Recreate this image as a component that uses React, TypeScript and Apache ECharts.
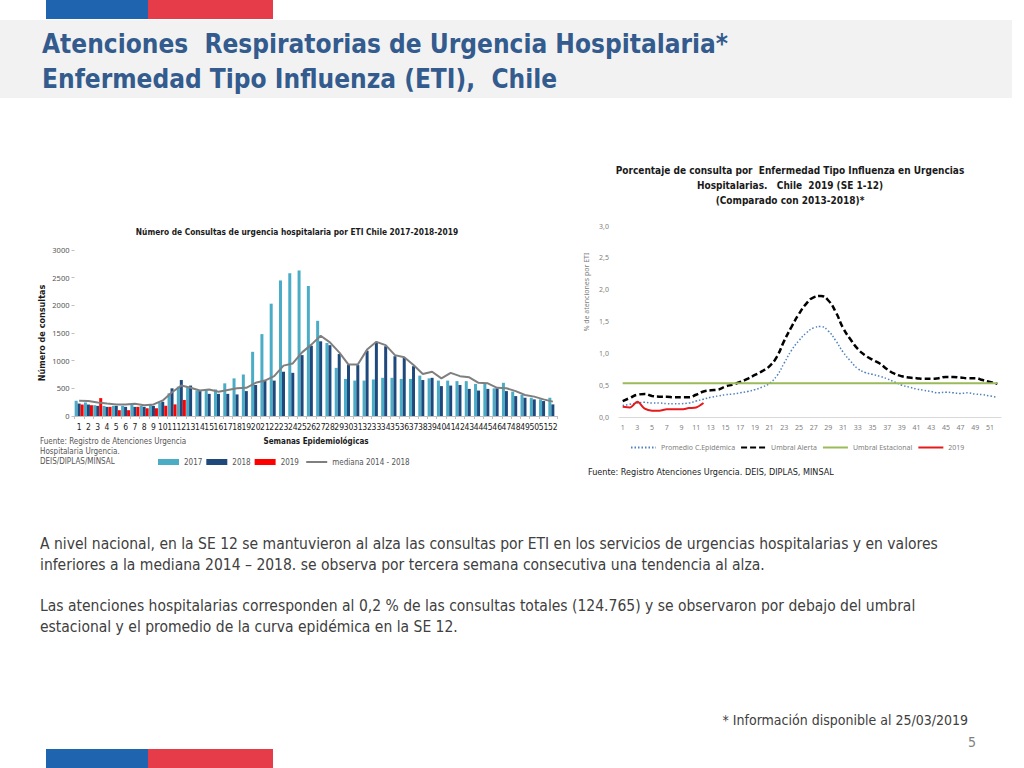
import React, { useEffect, useRef } from "react";
import * as echarts from "echarts";

const weeks = ["1","2","3","4","5","6","7","8","9","10","11","12","13","14","15","16","17","18","19","20","21","22","23","24","25","26","27","28","29","30","31","32","33","34","35","36","37","38","39","40","41","42","43","44","45","46","47","48","49","50","51","52"];

const y2017 = [275,245,195,183,183,183,200,183,200,240,410,530,520,460,480,480,590,680,750,1160,1480,2030,2450,2580,2630,2350,1720,1320,870,670,640,640,660,690,690,670,670,730,680,640,640,630,630,580,580,500,600,440,380,330,300,330];
const y2018 = [225,207,183,165,183,165,165,165,183,255,500,650,550,450,400,400,400,390,450,560,640,640,800,780,1100,1270,1350,1280,1120,930,920,1180,1340,1260,1080,1050,900,650,690,540,550,560,490,460,490,500,450,360,330,300,270,210];
const y2019 = [207,195,323,165,105,105,165,140,140,185,210,290];
const median = [275,270,245,225,210,210,220,195,210,280,430,550,510,460,480,440,470,500,510,600,640,720,910,950,1150,1290,1450,1330,1150,930,930,1200,1340,1280,1100,1060,920,760,800,680,780,720,700,600,590,510,500,450,380,350,300,260];

const promedio = [0.18,0.20,0.22,0.23,0.22,0.22,0.21,0.21,0.21,0.22,0.25,0.28,0.31,0.33,0.35,0.36,0.38,0.40,0.43,0.47,0.53,0.65,0.85,1.05,1.20,1.32,1.40,1.42,1.35,1.20,1.02,0.88,0.76,0.70,0.67,0.64,0.60,0.55,0.50,0.47,0.44,0.42,0.40,0.38,0.39,0.38,0.37,0.38,0.36,0.35,0.33,0.31];
const alerta = [0.25,0.30,0.35,0.36,0.33,0.32,0.32,0.31,0.31,0.31,0.35,0.40,0.42,0.43,0.48,0.51,0.55,0.60,0.66,0.72,0.80,0.95,1.20,1.42,1.62,1.78,1.88,1.90,1.83,1.65,1.40,1.22,1.07,0.97,0.90,0.84,0.75,0.68,0.64,0.62,0.61,0.60,0.60,0.61,0.63,0.63,0.62,0.61,0.61,0.58,0.55,0.52];
const estacional = [0.53,0.53,0.53,0.53,0.53,0.53,0.53,0.53,0.53,0.53,0.53,0.53,0.53,0.53,0.53,0.53,0.53,0.53,0.53,0.53,0.53,0.53,0.53,0.53,0.53,0.53,0.53,0.53,0.53,0.53,0.53,0.53,0.53,0.53,0.53,0.53,0.53,0.53,0.53,0.53,0.53,0.53,0.53,0.53,0.53,0.53,0.53,0.53,0.53,0.53,0.53,0.53];
const r2019 = [0.16,0.15,0.24,0.13,0.10,0.10,0.12,0.12,0.12,0.14,0.15,0.22];

const leftYTicks = [0, 500, 1000, 1500, 2000, 2500, 3000];
const rightYTicks = [0, 0.5, 1, 1.5, 2, 2.5, 3];

const NARROW = "'DejaVu Sans Condensed', 'Noto Sans', sans-serif";
const SANS = "'Noto Sans', 'Open Sans', sans-serif";

export default function App() {
  const ref = useRef<HTMLDivElement>(null);
  useEffect(() => {
    if (!ref.current) return;
    const chart = echarts.init(ref.current, null, { renderer: "svg" });
    const hideSym = { opacity: 0 };
    const option: any = {
      animation: false,
      backgroundColor: "#ffffff",
      textStyle: { fontFamily: SANS },
      graphic: [
        { type: "rect", shape: { x: 46, y: 0, width: 102, height: 19 }, style: { fill: "#1F64AF" } },
        { type: "rect", shape: { x: 148, y: 0, width: 125, height: 19 }, style: { fill: "#E63B48" } },
        { type: "rect", shape: { x: 0, y: 20, width: 1012, height: 78 }, style: { fill: "#F2F2F2" } },
        { type: "text", x: 42, y: 44, style: { text: "Atenciones  Respiratorias de Urgencia Hospitalaria*", fill: "#335B8E", fontFamily: NARROW, fontWeight: "bold", fontSize: 26, verticalAlign: "middle" } },
        { type: "text", x: 42, y: 79, style: { text: "Enfermedad Tipo Influenza (ETI),  Chile", fill: "#335B8E", fontFamily: NARROW, fontWeight: "bold", fontSize: 26, verticalAlign: "middle" } },
        { type: "text", x: 297, y: 232, style: { text: "Número de Consultas de urgencia hospitalaria por ETI Chile 2017-2018-2019", fill: "#1a1a1a", fontFamily: NARROW, fontWeight: "bold", fontSize: 8.3, align: "center", verticalAlign: "middle" } },
        { type: "text", x: 42, y: 333, rotation: Math.PI / 2, style: { text: "Número de consultas", fill: "#1a1a1a", fontFamily: NARROW, fontWeight: "bold", fontSize: 9, align: "center", verticalAlign: "middle" } },
        { type: "text", x: 316, y: 441, style: { text: "Semanas Epidemiológicas", fill: "#1a1a1a", fontFamily: NARROW, fontWeight: "bold", fontSize: 8, align: "center", verticalAlign: "middle" } },
        { type: "text", x: 40, y: 436, style: { text: "Fuente: Registro de Atenciones Urgencia\nHospitalaria Urgencia.\nDEIS/DIPLAS/MINSAL", fill: "#555555", fontFamily: NARROW, fontSize: 8, lineHeight: 10, verticalAlign: "top" } },
        { type: "text", x: 790, y: 185, style: { text: "Porcentaje de consulta por  Enfermedad Tipo Influenza en Urgencias\nHospitalarias.   Chile  2019 (SE 1-12)\n(Comparado con 2013-2018)*", fill: "#1a1a1a", fontFamily: NARROW, fontWeight: "bold", fontSize: 10, lineHeight: 15, align: "center", verticalAlign: "middle" } },
        { type: "text", x: 586, y: 292, rotation: Math.PI / 2, style: { text: "% de atenciones por ETI", fill: "#808080", fontFamily: SANS, fontSize: 7, align: "center", verticalAlign: "middle" } },
        { type: "text", x: 588, y: 472, style: { text: "Fuente: Registro Atenciones Urgencia. DEIS, DIPLAS, MINSAL", fill: "#1a1a1a", fontFamily: NARROW, fontSize: 9, verticalAlign: "middle" } },
        { type: "text", x: 40, y: 533.6, style: { text: "A nivel nacional, en la SE 12 se mantuvieron al alza las consultas por ETI en los servicios de urgencias hospitalarias y en valores\ninferiores a la mediana 2014 – 2018. se observa por tercera semana consecutiva una tendencia al alza.\n\nLas atenciones hospitalarias corresponden al 0,2 % de las consultas totales (124.765) y se observaron por debajo del umbral\nestacional y el promedio de la curva epidémica en la SE 12.", fill: "#404040", fontFamily: NARROW, fontSize: 15.5, lineHeight: 20.7, verticalAlign: "top" } },
        { type: "text", x: 968, y: 720, style: { text: "* Información disponible al 25/03/2019", fill: "#404040", fontFamily: NARROW, fontSize: 14, align: "right", verticalAlign: "middle" } },
        { type: "text", x: 976, y: 742, style: { text: "5", fill: "#7F7F7F", fontFamily: NARROW, fontSize: 14, align: "right", verticalAlign: "middle" } },
        { type: "rect", shape: { x: 46, y: 749, width: 102, height: 19 }, style: { fill: "#1F64AF" } },
        { type: "rect", shape: { x: 148, y: 749, width: 125, height: 19 }, style: { fill: "#E63B48" } },
      ],
      legend: [
        {
          left: 153, top: 453, itemWidth: 21, itemHeight: 6, itemGap: 4,
          textStyle: { fontSize: 8, color: "#555555", fontFamily: NARROW },
          data: [
            { name: "2017", icon: "rect" },
            { name: "2018", icon: "rect" },
            { name: "2019 ", icon: "rect" },
            { name: "mediana 2014 - 2018", itemStyle: hideSym },
          ],
        },
        {
          left: 625, top: 439, itemWidth: 25, itemHeight: 8, itemGap: 5,
          textStyle: { fontSize: 7, color: "#808080", fontFamily: SANS },
          itemStyle: hideSym,
          data: ["Promedio C.Epidémica", "Umbral Alerta", "Umbral Estacional", "2019"],
        },
      ],
      grid: [
        { left: 74.5, top: 250, width: 483, height: 166 },
        { left: 619, top: 226, width: 382, height: 191 },
      ],
      xAxis: [
        {
          type: "category", gridIndex: 0, data: weeks,
          axisLine: { lineStyle: { color: "#BFBFBF" } },
          axisTick: { show: true, length: 3, lineStyle: { color: "#BFBFBF" } },
          axisLabel: { interval: 0, fontSize: 8.5, color: "#1a1a1a", margin: 6, fontFamily: NARROW },
        },
        {
          type: "category", gridIndex: 1, data: weeks,
          axisLine: { lineStyle: { color: "#D9D9D9" } },
          axisTick: { show: false },
          axisLabel: { interval: 1, fontSize: 7, color: "#808080", margin: 7 },
        },
      ],
      yAxis: [
        {
          type: "value", gridIndex: 0, min: leftYTicks[0], max: leftYTicks[leftYTicks.length - 1], interval: 500,
          axisLine: { show: false },
          axisTick: { show: true, length: 3, lineStyle: { color: "#BFBFBF" } },
          splitLine: { show: false },
          axisLabel: { fontSize: 7.5, color: "#555555", margin: 5, formatter: (v: number) => String(v) },
        },
        {
          type: "value", gridIndex: 1, min: rightYTicks[0], max: rightYTicks[rightYTicks.length - 1], interval: 0.5,
          axisLine: { show: false }, axisTick: { show: false }, splitLine: { show: false },
          axisLabel: { fontSize: 7, color: "#808080", margin: 10, formatter: (v: number) => v.toFixed(1).replace(".", ",") },
        },
      ],
      series: [
        { name: "2017", type: "bar", xAxisIndex: 0, yAxisIndex: 0, data: y2017, barWidth: 3, barGap: "0%", itemStyle: { color: "#4BACC6" } },
        { name: "2018", type: "bar", xAxisIndex: 0, yAxisIndex: 0, data: y2018, barWidth: 3, barGap: "0%", itemStyle: { color: "#1F497D" } },
        { name: "2019 ", type: "bar", xAxisIndex: 0, yAxisIndex: 0, data: y2019, barWidth: 3, barGap: "0%", itemStyle: { color: "#FF0000" } },
        { name: "mediana 2014 - 2018", type: "line", xAxisIndex: 0, yAxisIndex: 0, data: median, symbol: "none", lineStyle: { color: "#7F7F7F", width: 2 }, itemStyle: { color: "#7F7F7F" } },
        { name: "Promedio C.Epidémica", type: "line", xAxisIndex: 1, yAxisIndex: 1, data: promedio, smooth: true, symbol: "none", lineStyle: { color: "#4F81BD", width: 1.5, type: [1.5, 2] }, itemStyle: { color: "#4F81BD" } },
        { name: "Umbral Alerta", type: "line", xAxisIndex: 1, yAxisIndex: 1, data: alerta, smooth: true, symbol: "none", lineStyle: { color: "#000000", width: 2.5, type: [6, 3] }, itemStyle: { color: "#000000" } },
        { name: "Umbral Estacional", type: "line", xAxisIndex: 1, yAxisIndex: 1, data: estacional, symbol: "none", lineStyle: { color: "#9BBB59", width: 2 }, itemStyle: { color: "#9BBB59" } },
        { name: "2019", type: "line", xAxisIndex: 1, yAxisIndex: 1, data: r2019, smooth: 0.3, symbol: "none", lineStyle: { color: "#E41A1C", width: 2 }, itemStyle: { color: "#E41A1C" } },
      ],
    };
    chart.setOption(option);
    return () => chart.dispose();
  }, []);
  return <div ref={ref} style={{ position: "absolute", left: 0, top: 0, width: 1024, height: 768 }} />;
}
